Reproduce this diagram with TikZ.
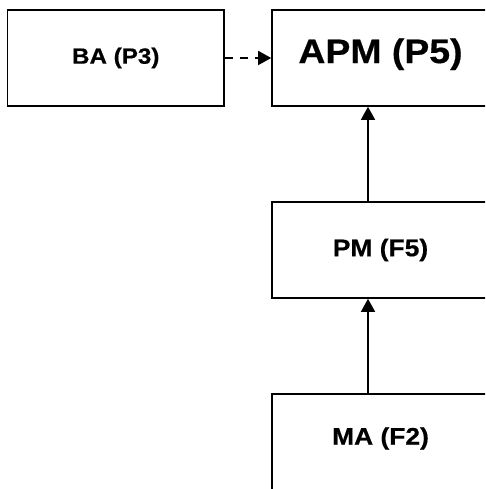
\documentclass[tikz,border=0pt]{standalone}
\usepackage{fontspec}
\setmainfont{Liberation Sans}
\newfontfamily\boxfont{Liberation Sans Bold}[FakeStretch=1.1, FakeBold=0.6]
\usepackage{tikz}
\usetikzlibrary{arrows.meta}
\tikzstyle{block} = [rectangle, draw=black, line width=1.6pt, minimum width=217pt, minimum height=96pt, text centered, font=\boxfont\fontsize{24}{28}\selectfont]
\tikzstyle{arrow} = [line width=1.5pt, -{Triangle[length=13pt,width=14pt]}]

\begin{document}
\begin{tikzpicture}[x=1pt, y=1pt]
\useasboundingbox (0,0) rectangle (485,489);
\clip (0,0) rectangle (485,489);

% Haut
\node (ba) [block, minimum width=216.5pt, font=\boxfont\fontsize{22}{26}\selectfont] at (115.75,431) {BA (P3)};
\node (apm) [block, font=\boxfont\fontsize{34}{40}\selectfont, text depth=14.5pt] at (380.5,431) {APM (P5)};

% Milieu
\node (pm) [block] at (380.5,239) {PM (F5)};

% Bas
\node (ma) [block, text depth=12pt] at (380.5,47) {MA (F2)};

% Flèches
\draw [arrow, dash pattern=on 8pt off 7pt] (ba) -- (apm);
\draw [arrow] ([xshift=-12.5pt]pm.north) -- ([xshift=-12.5pt]apm.south);
\draw [arrow] ([xshift=-12.5pt]ma.north) -- ([xshift=-12.5pt]pm.south);

\end{tikzpicture}
\end{document}
